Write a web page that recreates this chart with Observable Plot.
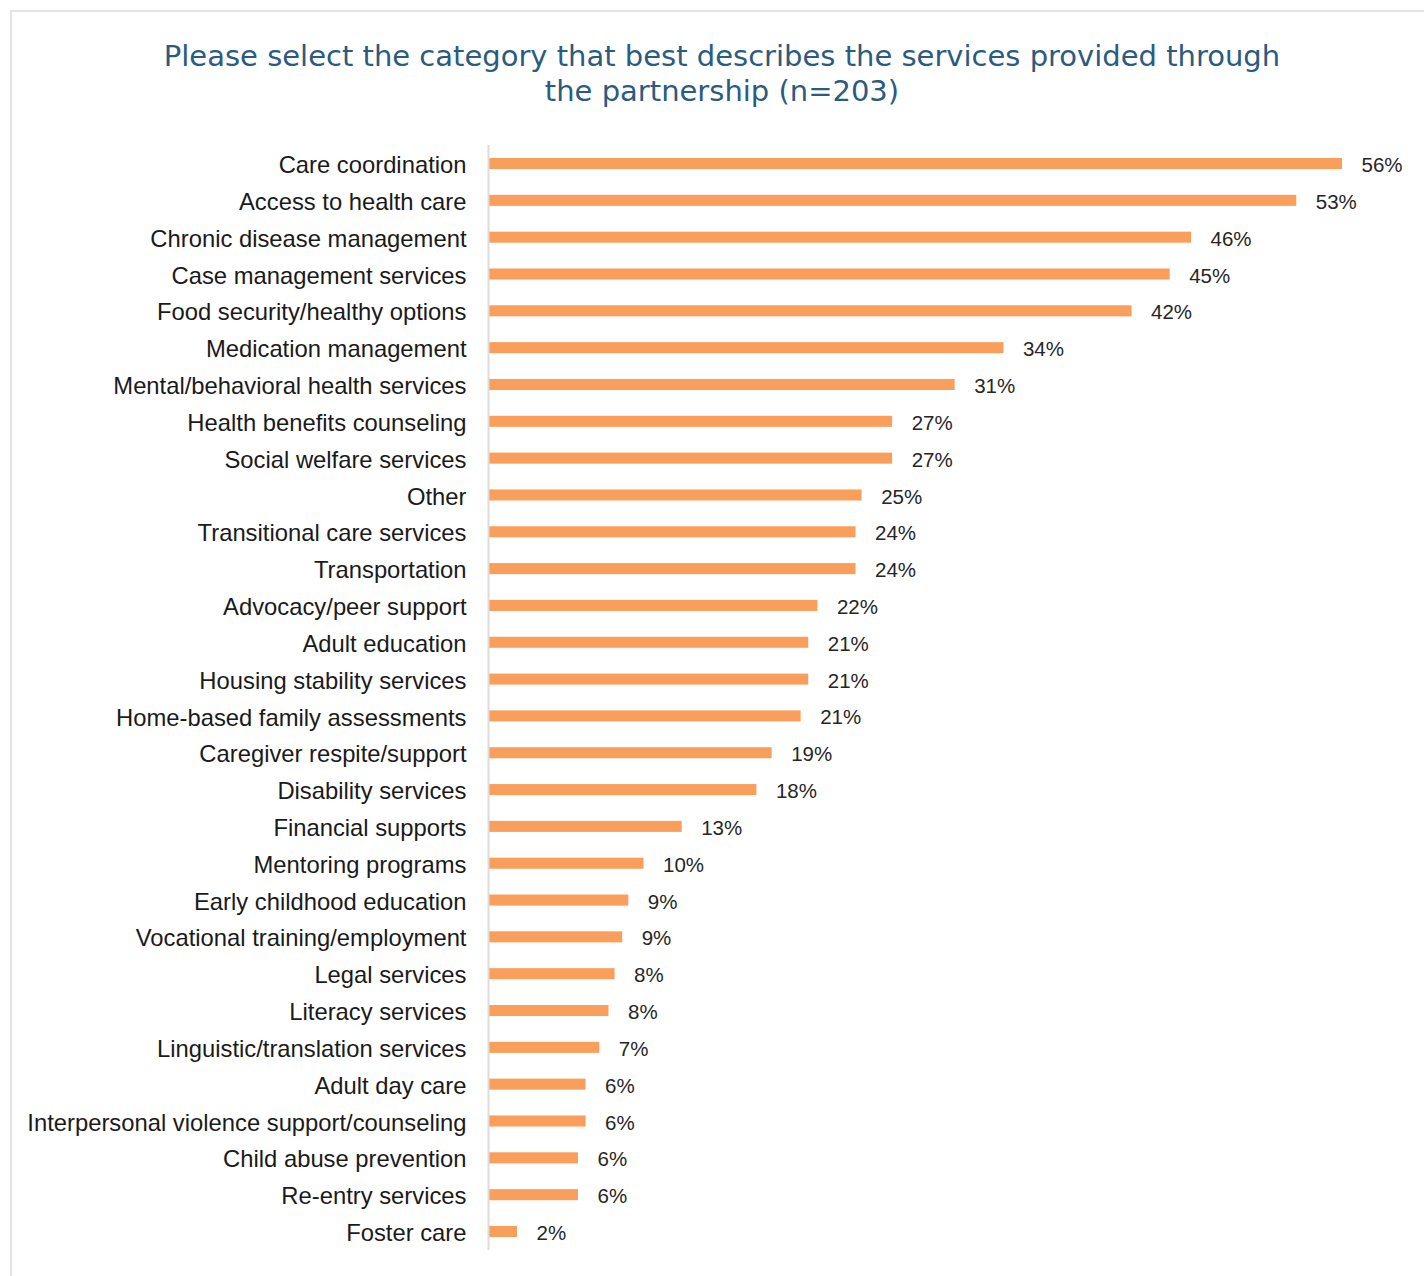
<!DOCTYPE html>
<html>
<head>
<meta charset="utf-8">
<script src="https://cdn.jsdelivr.net/npm/d3@7"></script>
<script src="https://cdn.jsdelivr.net/npm/@observablehq/plot@0.6"></script>
<style>
  html, body { margin: 0; padding: 0; background: #fff; }
  body { position: relative; width: 1424px; height: 1276px; overflow: hidden; }
  #frame { position: absolute; left: 10px; top: 10px; width: 1430px; height: 1300px;
           border-top: 2px solid #e3e3e3; border-left: 2px solid #e3e3e3; }
  #title { position: absolute; left: 10px; width: 1424px; top: 39px; text-align: center;
           font-family: "DejaVu Sans", Verdana, sans-serif; font-size: 29px; line-height: 35px;
           color: #2b5b7e; }
  #chart { position: absolute; left: 0; top: 140px; }
</style>
</head>
<body>
<div id="frame"></div>
<div id="title">Please select the category that best describes the services provided through<br>the partnership (n=203)</div>
<div id="chart"></div>
<script>
const categories = [
  "Care coordination",
  "Access to health care",
  "Chronic disease management",
  "Case management services",
  "Food security/healthy options",
  "Medication management",
  "Mental/behavioral health services",
  "Health benefits counseling",
  "Social welfare services",
  "Other",
  "Transitional care services",
  "Transportation",
  "Advocacy/peer support",
  "Adult education",
  "Housing stability services",
  "Home-based family assessments",
  "Caregiver respite/support",
  "Disability services",
  "Financial supports",
  "Mentoring programs",
  "Early childhood education",
  "Vocational training/employment",
  "Legal services",
  "Literacy services",
  "Linguistic/translation services",
  "Adult day care",
  "Interpersonal violence support/counseling",
  "Child abuse prevention",
  "Re-entry services",
  "Foster care"
];
// bar lengths (percent)
const values = [56.0, 53.0, 46.1, 44.7, 42.2, 33.8, 30.6, 26.5, 26.5, 24.5, 24.1, 24.1, 21.6, 21.0, 21.0, 20.5, 18.6, 17.6, 12.7, 10.2, 9.2, 8.8, 8.3, 7.9, 7.3, 6.4, 6.4, 5.9, 5.9, 1.9];
// value labels as printed
const labels = ["56%", "53%", "46%", "45%", "42%", "34%", "31%", "27%", "27%", "25%", "24%", "24%", "22%", "21%", "21%", "21%", "19%", "18%", "13%", "10%", "9%", "9%", "8%", "8%", "7%", "6%", "6%", "6%", "6%", "2%"];

const data = categories.map((c, i) => ({category: c, value: values[i], label: labels[i]}));

const chart = Plot.plot({
  width: 1424,
  height: 1130,
  marginLeft: 488,
  marginRight: 21,
  marginTop: 5,
  marginBottom: 20,
  style: {fontFamily: "'Liberation Sans', Arial, sans-serif", background: "transparent"},
  x: {domain: [0, 60], axis: null},
  y: {domain: categories, paddingInner: 0.7, paddingOuter: 0.353, round: false, axis: null, label: null},
  marks: [
    Plot.barX(data, {x: "value", y: "category", fill: "#fa9f5b"}),
    Plot.ruleX([0], {stroke: "#dcdcdc", strokeWidth: 2}),
    Plot.axisY({tickSize: 0, tickPadding: 22, fontSize: 23.8, dy: 1.5, color: "#1a1a1a", label: null}),
    Plot.text(data, {x: "value", y: "category", text: "label", dx: 19, dy: 1.5, textAnchor: "start", fontSize: 20.5, fill: "#262626"})
  ]
});
document.getElementById("chart").appendChild(chart);
</script>
</body>
</html>
